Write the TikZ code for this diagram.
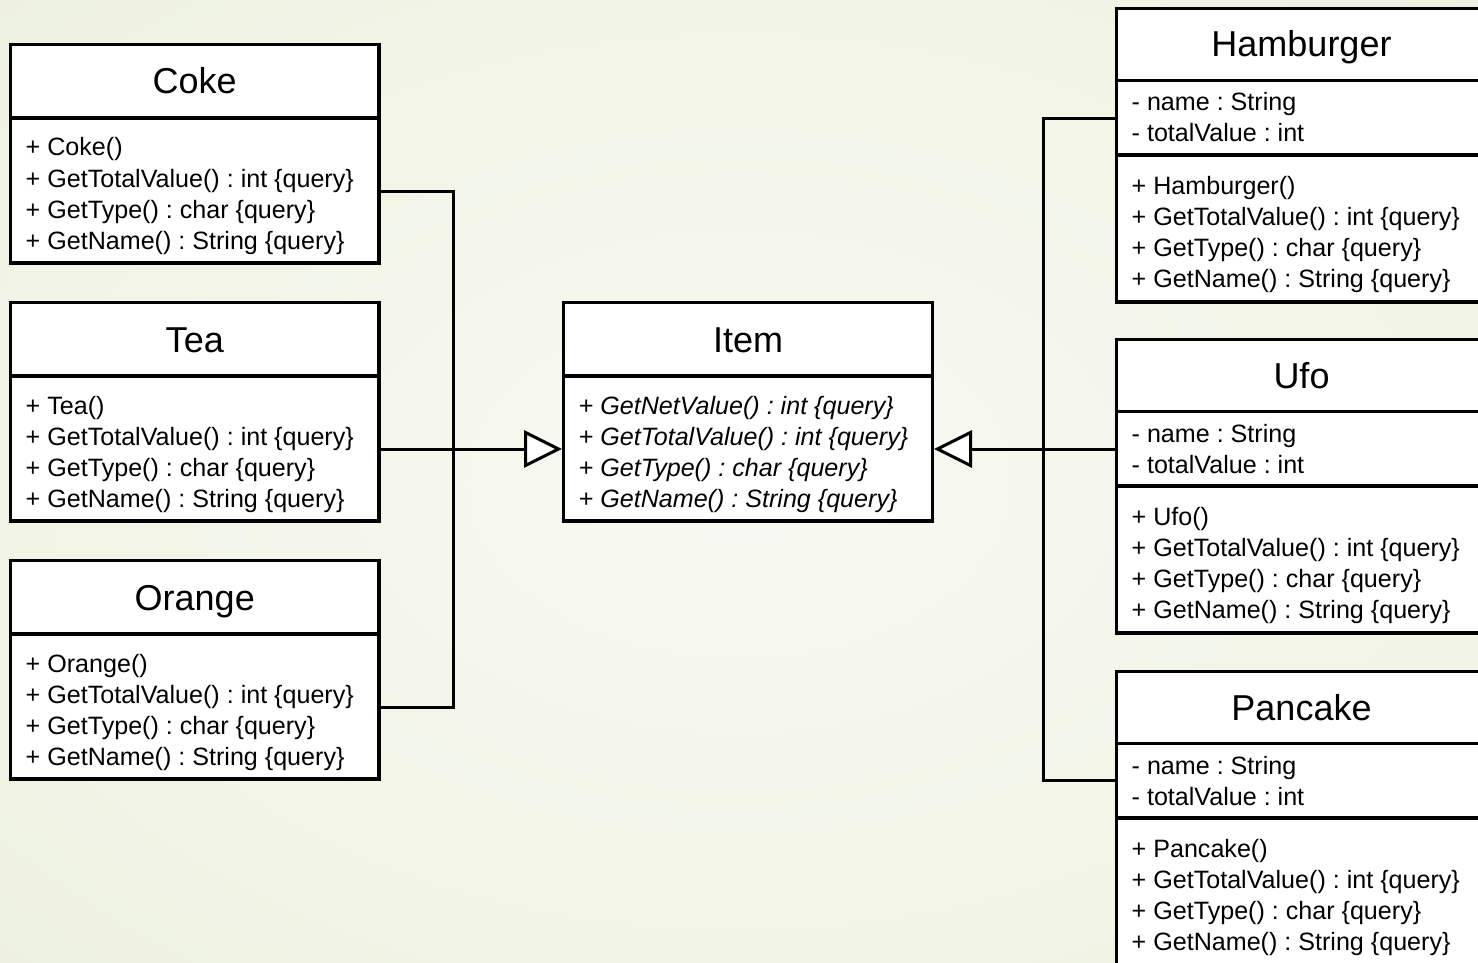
\documentclass[tikz,border=0pt]{standalone}
\usepackage{fontspec}
\setmainfont{Liberation Sans}
\usetikzlibrary{arrows.meta,calc}
\frenchspacing

% soft green paper behind the class diagram
\definecolor{papercentre}{HTML}{F8F9F2}
\definecolor{paperinner}{HTML}{F1F4E6}
\definecolor{paperouter}{HTML}{E8EDD8}
\definecolor{paperedge}{HTML}{E0E7CA}
\pgfdeclareradialshading{paper}{\pgfpoint{0bp}{0bp}}{%
  color(0bp)=(papercentre); color(26bp)=(paperinner);
  color(50bp)=(paperouter); color(71bp)=(paperedge)}

\tikzset{
  classbox/.style={draw, line width=3.2pt, fill=white, inner sep=0pt,
    outer sep=0pt, anchor=north west},
  divider/.style={line width=3.2pt},
  classname/.style={font=\fontsize{36}{36}\selectfont, anchor=base, inner sep=0pt},
  member/.style={font=\fontsize{25.1}{25.1}\selectfont, anchor=base west, inner sep=0pt},
  abstractop/.style={member, font=\fontsize{25.1}{25.1}\selectfont\itshape},
  conn/.style={line width=3pt},
  inherit/.style={conn,
    -{Triangle[open, fill=white, length=38pt, width=37pt, line width=3pt]}},
}

% title of a class, #2 = baseline below the top edge
\newcommand\umltitle[3]{\node[classname] (#1-title) at ([yshift=-#2pt]#1.north) {#3};}
% compartment line, #2 = distance below the top edge
\newcommand\umldivider[2]{\draw[divider] ([yshift=-#2pt]#1.north west) -- ([yshift=-#2pt]#1.north east);}
% list of members: box, tag, first baseline, style, entries
\newcommand\umlmembers[5]{%
  \foreach \txt [count=\i from 0] in {#5}{%
    \node[#4] (#1-#2-\i) at ([xshift=15pt, yshift={-(#3+31*\i)*1pt}]#1.north west) {\txt};}}

\begin{document}
\begin{tikzpicture}[x=1pt, y=-1pt]
\useasboundingbox (0,0) rectangle (1478,963);
\clip (0,0) rectangle (1478,963);
\shade[shading=paper] (0,0) rectangle (1478,963);

% ---- concrete drinks (left column)
\node[classbox, minimum width=368.5pt, minimum height=218.5pt] (coke) at (10.5,44.5) {};
\umldivider{coke}{73.5}
\umltitle{coke}{49.5}{Coke}
\umlmembers{coke}{op}{111.5}{member}{+ Coke(), + GetTotalValue() : int \{query\}, + GetType() : char \{query\}, + GetName() : String \{query\}}

\node[classbox, minimum width=368.5pt, minimum height=218.5pt] (tea) at (10.5,302.5) {};
\umldivider{tea}{73.5}
\umltitle{tea}{49.5}{Tea}
\umlmembers{tea}{op}{111.5}{member}{+ Tea(), + GetTotalValue() : int \{query\}, + GetType() : char \{query\}, + GetName() : String \{query\}}

\node[classbox, minimum width=368.5pt, minimum height=218.5pt] (orange) at (10.5,560.5) {};
\umldivider{orange}{73.5}
\umltitle{orange}{49.5}{Orange}
\umlmembers{orange}{op}{111.5}{member}{+ Orange(), + GetTotalValue() : int \{query\}, + GetType() : char \{query\}, + GetName() : String \{query\}}

% ---- abstract base class
\node[classbox, minimum width=369pt, minimum height=218.5pt] (item) at (563.5,302.5) {};
\umldivider{item}{73.5}
\umltitle{item}{49.5}{Item}
\umlmembers{item}{op}{111.5}{abstractop}{+ GetNetValue() : int \{query\}, + GetTotalValue() : int \{query\}, + GetType() : char \{query\}, + GetName() : String \{query\}}

% ---- concrete food (right column)
\node[classbox, minimum width=370pt, minimum height=293.5pt] (hamburger) at (1116.5,8.5) {};
\umldivider{hamburger}{72}
\umldivider{hamburger}{146.5}
\umltitle{hamburger}{48.5}{Hamburger}
\umlmembers{hamburger}{attr}{102.5}{member}{- name : String, - totalValue : int}
\umlmembers{hamburger}{op}{185.5}{member}{+ Hamburger(), + GetTotalValue() : int \{query\}, + GetType() : char \{query\}, + GetName() : String \{query\}}

\node[classbox, minimum width=370pt, minimum height=293.5pt] (ufo) at (1116.5,339.5) {};
\umldivider{ufo}{72}
\umldivider{ufo}{146.5}
\umltitle{ufo}{48.5}{Ufo}
\umlmembers{ufo}{attr}{102.5}{member}{- name : String, - totalValue : int}
\umlmembers{ufo}{op}{185.5}{member}{+ Ufo(), + GetTotalValue() : int \{query\}, + GetType() : char \{query\}, + GetName() : String \{query\}}

\node[classbox, minimum width=370pt, minimum height=293.5pt] (pancake) at (1116.5,671.5) {};
\umldivider{pancake}{72}
\umldivider{pancake}{146.5}
\umltitle{pancake}{48.5}{Pancake}
\umlmembers{pancake}{attr}{102.5}{member}{- name : String, - totalValue : int}
\umlmembers{pancake}{op}{185.5}{member}{+ Pancake(), + GetTotalValue() : int \{query\}, + GetType() : char \{query\}, + GetName() : String \{query\}}

% ---- connection points on the class borders
\coordinate (coke-port)      at ([yshift=-146.5pt]coke.north east);
\coordinate (tea-port)       at ([yshift=-146.5pt]tea.north east);
\coordinate (orange-port)    at ([yshift=-146.5pt]orange.north east);
\coordinate (item-west-port) at ([yshift=-146.5pt,xshift=-1.5pt]item.north west);
\coordinate (item-east-port) at ([yshift=-146.5pt,xshift=1.5pt]item.north east);
\coordinate (hamburger-port) at ([yshift=-110pt]hamburger.north west);
\coordinate (ufo-port)       at ([yshift=-109.5pt]ufo.north west);
\coordinate (pancake-port)   at ([yshift=-108.5pt]pancake.north west);
\coordinate (left-bus)  at (453,449);
\coordinate (right-bus) at (1043,449);

% ---- generalisation links
\draw[conn] (coke-port) -| (left-bus |- orange-port) -- (orange-port);
\draw[inherit] (tea-port) -- (item-west-port);
\draw[conn] (hamburger-port) -| (right-bus |- pancake-port) -- (pancake-port);
\draw[inherit] (ufo-port) -- (item-east-port);
\end{tikzpicture}
\end{document}
